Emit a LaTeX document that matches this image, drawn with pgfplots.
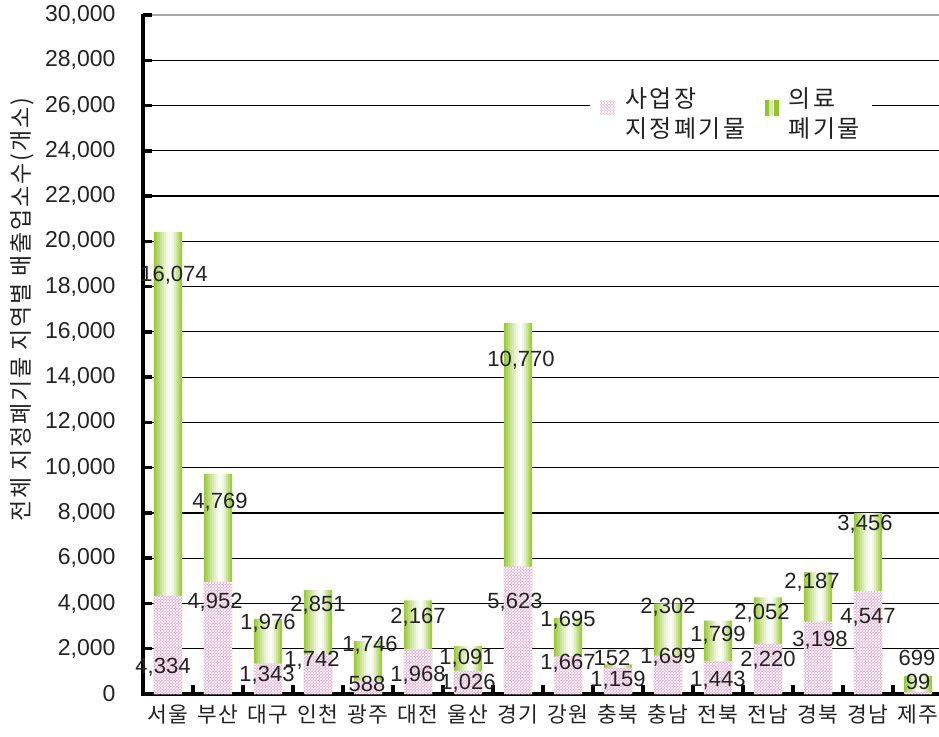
\documentclass[border=0pt]{standalone}
\usepackage{fontspec}
\setmainfont{Liberation Sans}
\newfontfamily\kr[LetterSpace=10]{Noto Sans CJK KR}
\newfontfamily\krlab[LetterSpace=8]{Noto Sans CJK KR}
\newfontfamily\krtick[LetterSpace=4]{Noto Sans CJK KR}
\usepackage{pgfplots}
\usepackage{pgfplotstable}
\pgfplotsset{compat=1.18}
\usetikzlibrary{patterns}
\definecolor{pinkfill}{RGB}{236,172,212}
\definecolor{medgreen}{RGB}{146,198,40}
\definecolor{txt}{RGB}{35,35,35}

% x = region index, pink = 사업장 지정폐기물, green = 의료 폐기물
\pgfplotstableread{
x pink green
0 4334 16074
1 4952 4769
2 1343 1976
3 1742 2851
4 588 1746
5 1968 2167
6 1026 1091
7 5623 10770
8 1667 1695
9 1159 152
10 1699 2302
11 1443 1799
12 2220 2052
13 3198 2187
14 4547 3456
15 99 699
}\datatable

% where the value labels sit
\pgfplotstableread{
x y lab
-0.1 1190 4,334
0.12 18500 16,074
0.94 4070 4,952
1.04 8480 4,769
1.98 840 1,343
2.0 3140 1,976
2.88 1500 1,742
3.0 3930 2,851
3.98 440 588
4.04 2170 1,746
5.0 840 1,968
5.0 3400 2,167
6.0 490 1,026
5.98 1590 1,091
6.94 4070 5,623
7.06 14760 10,770
8.0 1370 1,667
8.0 3270 1,695
9.0 620 1,159
8.88 1590 152
10.0 1640 1,699
10.0 3850 2,302
11.0 620 1,443
11.0 2600 1,799
12.0 1500 2,220
11.88 3580 2,052
13.04 2390 3,198
12.88 4950 2,187
14.0 3400 4,547
13.94 7500 3,456
15.0 530 99
14.98 1590 699
}\labtable

% colours of the 14 vertical strips that make the green gradient
\pgfplotsinvokeforeach{0,...,13}{%
  \pgfmathsetmacro\tpos{(#1+0.5)/14}%
  \pgfmathsetmacro\dist{\tpos<0.6 ? (0.6-\tpos)/0.6 : (\tpos-0.6)/0.4}%
  \pgfmathsetmacro\mixv{100*\dist^1.3}%
  \colorlet{gstrip#1}{medgreen!\mixv!white}%
}

\begin{document}
\begin{tikzpicture}
\begin{axis}[
    name=ax,
    width=800pt, height=679pt, scale only axis,
    xmin=-0.5, xmax=15.5, ymin=0, ymax=30000,
    enlargelimits=false,
    ybar, bar width=28pt,
    axis x line*=bottom, axis y line*=left,
    every outer x axis line/.append style={line width=4pt, black},
    every outer y axis line/.append style={line width=4pt, black},
    tick align=inside,
    ytick={0,2000,...,28000},
    extra y ticks={30000},
    extra y tick style={grid style={gray!70, line width=1.3pt}},
    ymajorgrids,
    grid style={black, line width=1.2pt},
    major tick length=9pt,
    tick style={line width=3.5pt, black},
    xtick={-0.5,0.5,...,15.5},
    x tick label as interval,
    xticklabels={서울,부산,대구,인천,광주,대전,울산,경기,강원,충북,충남,전북,전남,경북,경남,제주},
    xticklabel style={font=\krtick\fontsize{21.5}{26}\selectfont, text=txt, yshift=-7pt},
    yticklabel style={font=\fontsize{23}{27}\selectfont, text=txt, xshift=-24pt},
    scaled y ticks=false,
    /pgf/number format/.cd, 1000 sep={,}, assume math mode=true, /pgfplots/.cd,
    ylabel={전체 지정폐기물 지역별 배출업소수(개소)},
    ylabel style={font=\krlab\fontsize{23}{27}\selectfont, text=txt, at={(axis description cs:-0.151,0.566)}, anchor=center},
    legend columns=2,
    legend style={at={(0.559,0.901)}, anchor=north west, draw=none, fill=white,
        font=\kr\fontsize{24}{30}\selectfont, text=txt,
        cells={anchor=west, align=left},
        /tikz/every odd column/.style={column sep=8pt},
        /tikz/every even column/.style={column sep=18pt},
        inner xsep=10pt, inner ysep=3pt},
]
% green part: total height, drawn as thin strips for the side-to-side gradient
\pgfplotsinvokeforeach{0,...,13}{
  \addplot[forget plot, draw=none, fill=gstrip#1, bar width=2.3pt, bar shift={2*#1pt-13pt}]
      table[x=x, y expr=\thisrow{pink}+\thisrow{green}]{\datatable};
}
% pink part on top of the strips
\addplot[fill=pinkfill, draw=none, bar shift=0pt,
    postaction={pattern=crosshatch, pattern color=white},
    legend image code/.code={\path[fill=pinkfill, postaction={pattern=crosshatch, pattern color=white}] (0pt,-2pt) rectangle (15pt,13pt);}]
    table[x=x, y=pink]{\datatable};
\addlegendentry{사업장\\지정폐기물}
\addlegendimage{legend image code/.code={
    \fill[medgreen] (0pt,-2pt) rectangle (4pt,13pt);
    \fill[medgreen!40] (4pt,-2pt) rectangle (7pt,13pt);
    \fill[medgreen] (9pt,-2pt) rectangle (13pt,13pt);}}
\addlegendentry{의료\\폐기물}
\end{axis}
\begin{axis}[
    at={(ax.south west)}, anchor=south west,
    width=800pt, height=679pt, scale only axis,
    xmin=-0.5, xmax=15.5, ymin=0, ymax=30000,
    hide axis, clip=false,
]
% heavier left axis line, as in the reference
\draw[line width=4pt, black] (rel axis cs:0,-0.003) -- (rel axis cs:0,1.001);
\addplot[draw=none, mark=none, nodes near coords, point meta=explicit symbolic,
    every node near coord/.append style={anchor=center, font=\fontsize{22}{26}\selectfont, text=txt}]
    table[x=x, y=y, meta=lab]{\labtable};
\end{axis}
\pgfresetboundingbox
\path (ax.south west) ++(-143pt,-42pt) rectangle ++(939pt,736pt);
\end{tikzpicture}
\end{document}
